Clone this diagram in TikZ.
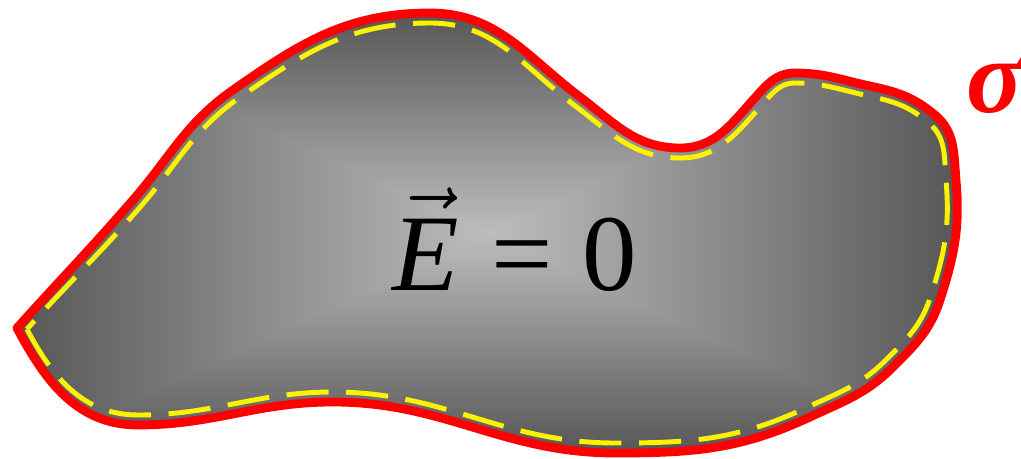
\documentclass[tikz,border=0pt]{standalone}
\usepackage{fix-cm}
\usepackage[no-math]{fontspec}
\setmainfont{Liberation Serif}
\usetikzlibrary{calc}

\pgfdeclarefunctionalshading{rectglow}{\pgfpoint{-50bp}{-50bp}}{\pgfpoint{50bp}{50bp}}{}{%
  abs exch abs 2 copy lt {exch} if pop 25 div dup 1 gt {pop 1} if 0.4 mul 0.74 exch sub dup dup}

\newcommand{\blobpath}[1]{%
  ($(17,130)+(-7:#1)$)
  to[out=-62,in=180] ($(138,33)+(90:#1)$)
  to[out=0,in=180] ($(333,56)+(90:#1)$)
  to[out=0,in=180] ($(615,5)+(90:#1)$)
  to[out=0,in=205] ($(810,41)+(115:#1)$)
  to[out=25,in=225] ($(893,91)+(135:#1)$)
  to[out=45,in=252] ($(940,158)+(162:#1)$)
  to[out=72,in=275] ($(956,278)+(185:#1)$)
  to[out=95,in=320] ($(935,343)+(230:#1)$)
  to[out=140,in=348] ($(870,372)+(258:#1)$)
  to[out=168,in=0] ($(795,385)+(270:#1)$)
  to[out=180,in=48] ($(753,358)+(318:#1)$)
  to[out=228,in=0] ($(680,310)+(270:#1)$)
  to[out=180,in=323] ($(580,361)+(233:#1)$)
  to[out=143,in=0] ($(430,445)+(270:#1)$)
  to[out=180,in=35] ($(233,368)+(305:#1)$)
  to[out=215,in=49] ($(133,258)+(319:#1)$)
  to[out=229,in=48] ($(17,130)+(-7:#1)$) -- cycle}

\begin{document}
\begin{tikzpicture}[x=0.02cm, y=0.02cm,
                    redline/.style={draw=red, line width=5pt, line join=round},
                    yellowdash/.style={draw=yellow, line width=2.8pt, dash pattern=on 24pt off 10pt},
                    bigtext/.style={inner sep=0pt, font=\fontsize{62}{70}\selectfont}]
    \useasboundingbox (0,0) rectangle (1021,458);
    \shade[shading=rectglow] \blobpath{0};
    \draw[yellowdash] \blobpath{10};
    \draw[redline] \blobpath{0};
    \node[bigtext, anchor=base] (field) at (515,168)
        {\mbox{$\vec{\mbox{\itshape E}}$}\hspace{0.3em}=\hspace{0.27em}0};
    \node[bigtext, anchor=base west, text=red, font=\fontsize{60}{66}\selectfont\bfseries\itshape] (sigma) at (966,346) {σ};
\end{tikzpicture}
\end{document}
